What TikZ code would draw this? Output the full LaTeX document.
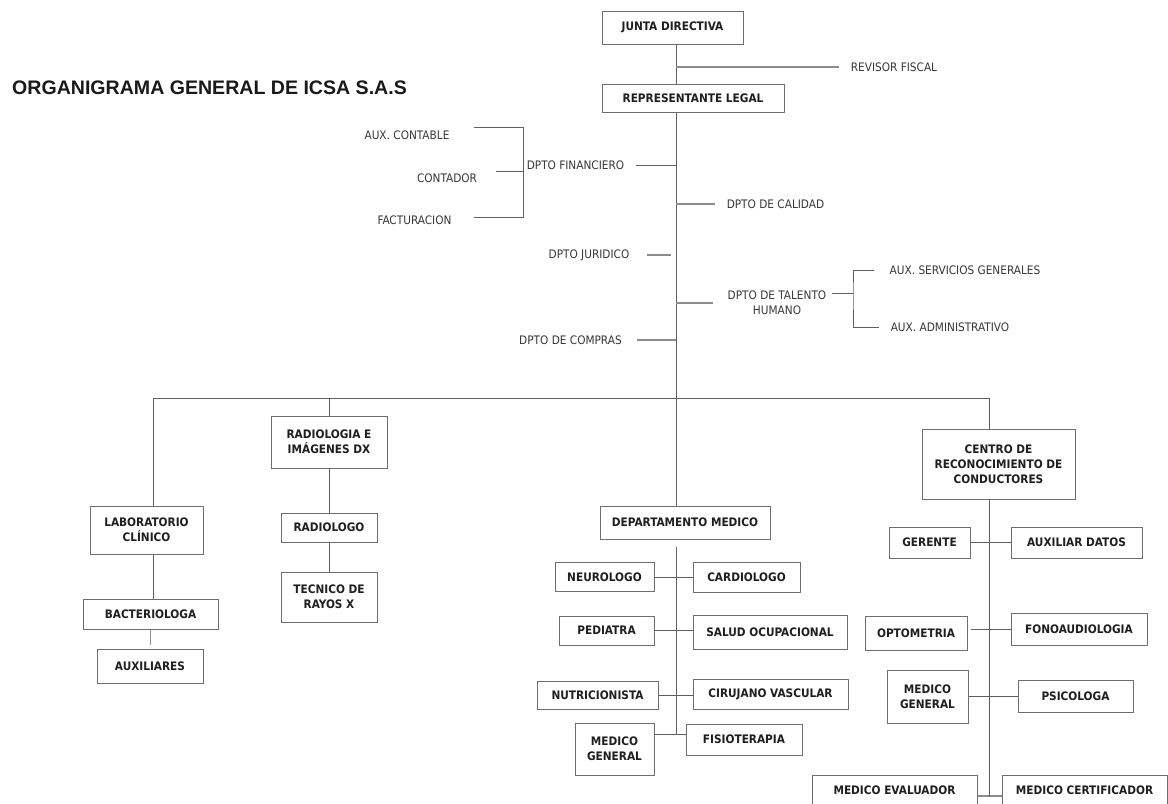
\documentclass[tikz,border=0pt]{standalone}
\usepackage{fontspec}
\usepackage{xcolor}
\usepackage{tikz}
\setmainfont{DejaVu Sans Condensed}
\newfontfamily\titlefont{Liberation Sans}
\definecolor{orgLine}{RGB}{95, 95, 95}
\definecolor{orgStub}{RGB}{140, 140, 140}
\definecolor{orgBox}{RGB}{110, 110, 110}
\definecolor{orgText}{RGB}{55, 55, 55}
\def\px{0.03cm}

\tikzset{
  box/.style={draw=orgBox, line width=0.85pt, align=center, inner sep=0pt,
    font=\bfseries\fontsize{10}{13}\selectfont, text=black!88},
  dim/.style 2 args={minimum width=#1*\px, minimum height=#2*\px},
  lbl/.style={font=\fontsize{10}{13}\selectfont, text=orgText, inner sep=0pt, align=center},
  link/.style={draw=orgLine, line width=0.75pt},
  stub/.style={draw=orgStub, line width=1.3pt}
}

\begin{document}
\begin{tikzpicture}[x=0.03cm, y=-0.03cm]
\useasboundingbox (0,0) rectangle (1168,803);
\clip (0,0) rectangle (1168,803);
\fill[white] (0,0) rectangle (1168,803);

% Title
\node[anchor=west, inner sep=0pt, text=black!90,
  font=\titlefont\bfseries\fontsize{16.7}{20}\selectfont] (title) at (12,88)
  {ORGANIGRAMA GENERAL DE ICSA S.A.S};

% Direction
\node[box, dim={141}{33}] (jd) at (672.5,27.5) {JUNTA DIRECTIVA};
\node[box, dim={182}{28}] (rl) at (693,98) {REPRESENTANTE LEGAL};
\node[lbl] (rf) at (894,67) {REVISOR FISCAL};
\coordinate (bus) at (676,398);
\coordinate (busL) at (153,398);
\coordinate (busR) at (989,398);

\draw[link] (jd.south -| bus) -- (rl.north -| bus);
\draw[link] (rl.south -| bus) -- (bus);
\draw[stub] (bus |- rf) -- ([xshift=-12*\px]rf.west);

% Departments around the trunk
\node[lbl] (df) at (575.5,165) {DPTO FINANCIERO};
\node[lbl] (ac) at (407,135) {AUX. CONTABLE};
\node[lbl] (co) at (447,178) {CONTADOR};
\node[lbl] (fa) at (414.5,220) {FACTURACION};
\coordinate (fbTop) at (523,127);
\coordinate (fbMid) at (523,171);
\coordinate (fbBot) at (523,217);
\draw[link] ([xshift=12*\px]df.east) -- (bus |- df);
\draw[link] ([xshift=24*\px]ac.east |- fbTop) -- (fbTop) -- (fbBot)
  -- ([xshift=22*\px]fa.east |- fbBot);
\draw[link] ([xshift=19*\px]co.east |- fbMid) -- (fbMid);

\node[lbl] (dc) at (775.5,204) {DPTO DE CALIDAD};
\draw[stub] (bus |- dc) -- ([xshift=-12*\px]dc.west);

\node[lbl] (dj) at (589,255) {DPTO JURIDICO};
\draw[stub] ([xshift=17*\px]dj.east) -- ([xshift=41*\px]dj.east);

\node[lbl] (dt) at (777,303) {DPTO DE TALENTO\\HUMANO};
\node[lbl] (sg) at (965,270) {AUX. SERVICIOS GENERALES};
\node[lbl] (ad) at (950,327) {AUX. ADMINISTRATIVO};
\coordinate (tb) at (853,293);
\draw[stub] (bus |- dt) -- ([xshift=-14*\px]dt.west);
\draw[link] ([xshift=5*\px]tb -| dt.east) -- (tb);
\draw[link] ([xshift=-15*\px]sg.west) -| (tb) |- ([xshift=-12*\px]ad.west);

\node[lbl] (dco) at (570.5,340) {DPTO DE COMPRAS};
\draw[stub] ([xshift=15*\px]dco.east) -- (bus |- dco);

% Operative units
\draw[link] (busL) -- (busR);

% Laboratorio
\node[box, dim={113}{48}] (lab) at (146.5,530) {LABORATORIO\\CLÍNICO};
\node[box, dim={135}{30}] (ba) at (150.5,614) {BACTERIOLOGA};
\node[box, dim={106}{34}] (ax) at (150,666) {AUXILIARES};
\draw[link] (busL) -- (busL |- lab.north);
\draw[link] (busL |- lab.south) -- (busL |- ba.north);
\draw[stub, shorten >=4*\px] (ba.south) -- (ba.south |- ax.north);

% Radiologia
\node[box, dim={116}{52}] (rad) at (329,442) {RADIOLOGIA E\\IMÁGENES DX};
\node[box, dim={96}{29}] (rg) at (329,527.5) {RADIOLOGO};
\node[box, dim={96}{50}] (tr) at (329,597) {TECNICO DE\\RAYOS X};
\draw[link] (rad.north |- bus) -- (rad.north);
\draw[link] (rad.south) -- (rg.north);
\draw[link] (rg.south) -- (tr.north);

% Departamento medico
\node[box, dim={170}{33}] (dm) at (685,522.5) {DEPARTAMENTO MEDICO};
\node[box, dim={99}{29}] (ne) at (604.5,577) {NEUROLOGO};
\node[box, dim={107}{30}] (ca) at (746.5,577) {CARDIOLOGO};
\node[box, dim={95}{29}] (pe) at (606.5,630.5) {PEDIATRA};
\node[box, dim={154}{34}] (sa) at (770,632) {SALUD OCUPACIONAL};
\node[box, dim={121}{28}] (nu) at (597.5,695) {NUTRICIONISTA};
\node[box, dim={155}{30}] (ci) at (770.5,694) {CIRUJANO VASCULAR};
\node[box, dim={79}{52}] (mg) at (614.5,749) {MEDICO\\GENERAL};
\node[box, dim={116}{31}] (fi) at (744,739.5) {FISIOTERAPIA};
\coordinate (dmEnd) at ([yshift=15*\px]mg.east -| bus);
\draw[link] (bus) -- (bus |- dm.north);
\draw[link] ([yshift=-7*\px]dm.south -| bus) -- (dmEnd);
\draw[link] (ne.east) -- (ca.west);
\draw[link] (pe.east) -- (pe.east -| sa.west);
\draw[link] (nu.east) -- (nu.east -| ci.west);
\draw[link] ([yshift=15*\px]mg.east) -- (dmEnd -| fi.west);

% Centro de reconocimiento de conductores
\node[box, dim={153}{70}] (ce) at (998.5,464) {CENTRO DE\\RECONOCIMIENTO DE\\CONDUCTORES};
\node[box, dim={81}{31}] (ge) at (929.5,542.5) {GERENTE};
\node[box, dim={131}{31}] (ad2) at (1076.5,542.5) {AUXILIAR DATOS};
\node[box, dim={102}{34}] (op) at (916,633) {OPTOMETRIA};
\node[box, dim={136}{32}] (fo) at (1079,629) {FONOAUDIOLOGIA};
\node[box, dim={81}{53}] (mg2) at (927.5,696.5) {MEDICO\\GENERAL};
\node[box, dim={115}{32}] (ps) at (1075.5,696) {PSICOLOGA};
\node[box, dim={165}{30}] (ev) at (894.5,790) {MEDICO EVALUADOR};
\node[box, dim={165}{30}] (mc) at (1084.5,790) {MEDICO CERTIFICADOR};
\draw[link] (busR) -- (busR |- ce.north);
\draw[stub] ([yshift=-6*\px]ev.east) -- ([yshift=-6*\px]ev.east -| mc.west);
\draw[link] (busR |- ce.south) -- ([yshift=-7*\px]busR |- ev.east);
\draw[link] (ge.east) -- (ad2.west);
\draw[link] ([xshift=3*\px]op.east |- fo.west) -- (fo.west);
\draw[link] (mg2.east) -- (mg2.east -| ps.west);
\end{tikzpicture}
\end{document}
